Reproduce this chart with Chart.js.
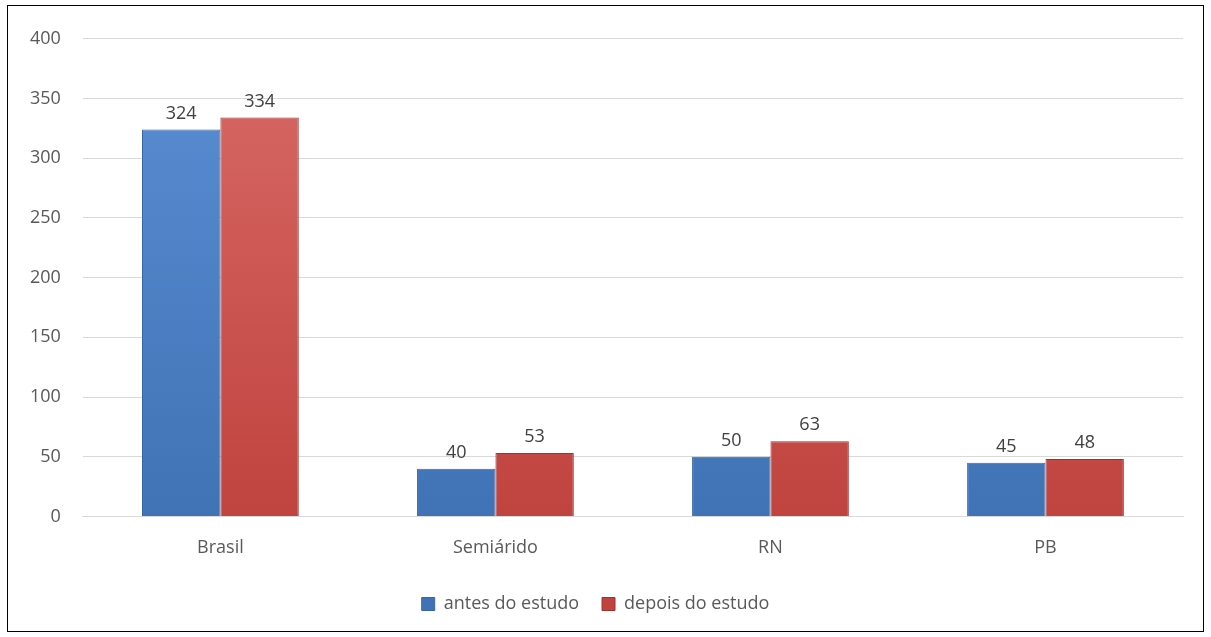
<!DOCTYPE html>
<html>
<head>
<meta charset="utf-8">
<script src="https://cdn.jsdelivr.net/npm/chart.js@4/dist/chart.umd.min.js"></script>
<style>
  html, body { margin: 0; padding: 0; background: #fff; }
  #frame {
    position: absolute; left: 7px; top: 5px;
    width: 1195px; height: 625px;
    border: 1.5px solid #000; background: #fff;
  }
  #frame canvas { display: block; }
</style>
</head>
<body>
<div id="frame"><canvas id="chart" width="1195" height="625"></canvas></div>
<script>
const categories = ['Brasil', 'Semiárido', 'RN', 'PB'];
const antes = [324, 40, 50, 45];
const depois = [334, 53, 63, 48];
const yTicks = [0, 50, 100, 150, 200, 250, 300, 350, 400];

const FONT = "'Open Sans', 'Liberation Sans', sans-serif";
const TEXT = '#595959';

function barFill(ctx, light, dark) {
  const area = ctx.chart.chartArea;
  if (!area) return dark;
  const g = ctx.chart.ctx.createLinearGradient(0, area.top, 0, area.bottom);
  g.addColorStop(0, light);
  g.addColorStop(1, dark);
  return g;
}

// value labels above each bar
const valueLabels = {
  id: 'valueLabels',
  afterDatasetsDraw(chart) {
    const c = chart.ctx;
    c.save();
    c.font = '18px ' + FONT;
    c.fillStyle = '#404040';
    c.textAlign = 'center';
    c.textBaseline = 'bottom';
    chart.data.datasets.forEach((ds, i) => {
      chart.getDatasetMeta(i).data.forEach((bar, j) => {
        c.fillText(ds.data[j], bar.x, bar.y - 7);
      });
    });
    c.restore();
  }
};

const chart = document.querySelector('#chart').getContext('2d');

new Chart(chart, {
  type: 'bar',
  data: {
    labels: categories,
    datasets: [
      {
        label: 'antes do estudo',
        data: antes,
        backgroundColor: ctx => barFill(ctx, '#5b8fd3', '#3f73b6'),
        borderColor: '#3a66a0',
        borderWidth: 1
      },
      {
        label: 'depois do estudo',
        data: depois,
        backgroundColor: ctx => barFill(ctx, '#d86a66', '#c0433f'),
        borderColor: '#9c3431',
        borderWidth: 1
      }
    ]
  },
  options: {
    responsive: false,
    animation: false,
    layout: { padding: { left: 0, right: 20, top: 18, bottom: 8 } },
    datasets: {
      bar: { categoryPercentage: 0.57, barPercentage: 1 }
    },
    scales: {
      x: {
        grid: { display: false },
        border: { color: '#d9d9d9', width: 1 },
        ticks: { color: TEXT, font: { family: FONT, size: 18 }, padding: 13 }
      },
      y: {
        min: 0,
        max: 400,
        afterBuildTicks: axis => { axis.ticks = yTicks.map(v => ({ value: v })); },
        grid: { color: '#d9d9d9', lineWidth: 1, drawTicks: false },
        border: { display: false },
        ticks: { color: TEXT, font: { family: FONT, size: 18 }, padding: 22 }
      }
    },
    plugins: {
      tooltip: { enabled: false },
      legend: {
        position: 'bottom',
        labels: {
          color: TEXT,
          font: { family: FONT, size: 18 },
          boxWidth: 13,
          boxHeight: 13,
          padding: 23
        }
      }
    }
  },
  plugins: [valueLabels]
});
</script>
</body>
</html>
